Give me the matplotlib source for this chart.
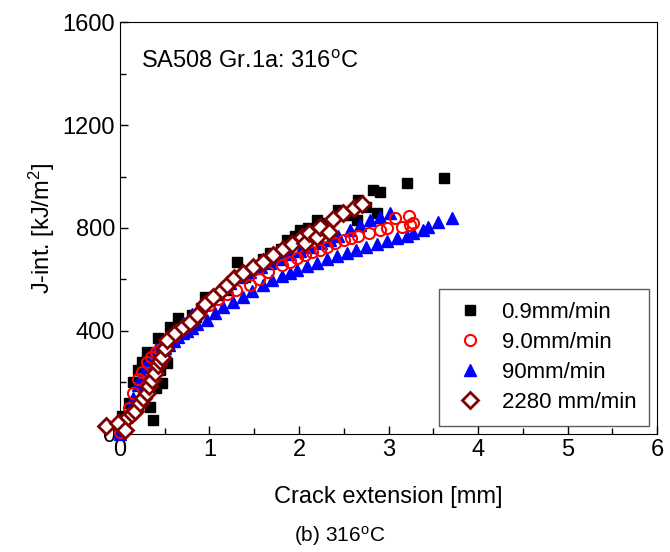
import numpy as np
import matplotlib
matplotlib.use("Agg")
import matplotlib.pyplot as plt
from matplotlib.ticker import MultipleLocator

plt.rcParams['font.family'] = ['Liberation Sans', 'DejaVu Sans']
plt.rcParams['mathtext.fontset'] = 'custom'
plt.rcParams['mathtext.rm'] = 'Liberation Sans'
plt.rcParams['mathtext.it'] = 'Liberation Sans:italic'

# 0.9 mm/min (black squares)
x_09 = [0.0, 0.02, 0.05, 0.1, 0.15, 0.2, 0.25, 0.3, 0.34, 0.37, 0.4, 0.43, 0.45, 0.47,
        0.5, 0.53, 0.56, 0.6, 0.65, 0.7, 0.75, 0.8, 0.85, 0.9, 0.95, 1.0, 1.1, 1.2,
        1.31, 1.4, 1.5, 1.6, 1.68, 1.8, 1.86, 1.95, 2.01, 2.1, 2.2, 2.3, 2.44, 2.55,
        2.65, 2.66, 2.75, 2.83, 2.87, 2.9, 3.2, 3.62]
j_09 = [8, 70, 60, 120, 200, 250, 280, 320, 105, 54, 180, 373, 250, 198,
        330, 276, 416, 390, 450, 430, 420, 460, 454, 490, 532, 520, 540, 560,
        668, 610, 640, 680, 703, 720, 753, 770, 792, 800, 831, 820, 870, 850,
        831, 909, 880, 948, 858, 940, 975, 994]

# 9.0 mm/min (red open circles)
x_90 = [0.0, 0.05, 0.1, 0.15, 0.2, 0.25, 0.3, 0.35, 0.4, 0.45, 0.5, 0.6, 0.7, 0.8,
        0.9, 1.0, 1.1, 1.2, 1.3, 1.45, 1.55, 1.65, 1.81, 1.9, 1.98, 2.07, 2.15,
        2.23, 2.31, 2.4, 2.5, 2.58, 2.66, 2.78, 2.9, 2.98, 3.07, 3.15, 3.23, 3.24, 3.27]
j_90 = [8, 40, 100, 160, 215, 240, 280, 300, 320, 326, 350, 380, 410, 440,
        480, 500, 525, 545, 560, 579, 600, 629, 656, 668, 683, 695, 707,
        715, 726, 740, 753, 760, 769, 780, 792, 800, 839, 804, 847, 812, 819]

# 90 mm/min (blue triangles), two tests
x_900a = [0.0, 0.05, 0.1, 0.15, 0.2, 0.25, 0.3, 0.35, 0.4, 0.45, 0.5, 0.55, 0.6, 0.65,
          0.7, 0.75, 0.8, 0.86, 0.97, 1.06, 1.15, 1.26, 1.37, 1.48, 1.6, 1.7, 1.81,
          1.9, 1.98, 2.09, 2.2, 2.31, 2.42, 2.53, 2.64, 2.75, 2.87, 2.98, 3.09, 3.2,
          3.27, 3.38, 3.44, 3.55, 3.71]
j_900a = [0, 30, 80, 140, 190, 230, 260, 285, 305, 320, 335, 345, 360, 375,
          390, 400, 410, 425, 443, 468, 493, 512, 532, 556, 579, 597, 613,
          625, 637, 651, 664, 678, 690, 702, 714, 726, 738, 749, 760, 770,
          781, 794, 804, 823, 839]
x_900b = [0.0, 0.1, 0.2, 0.3, 0.4, 0.5, 0.6, 0.7, 0.8, 0.9, 1.0, 1.1, 1.23, 1.35, 1.45,
          1.57, 1.68, 1.79, 1.9, 2.01, 2.12, 2.24, 2.35, 2.44, 2.57, 2.68, 2.79, 2.9, 3.02]
j_900b = [10, 90, 200, 275, 330, 360, 395, 430, 465, 495, 520, 550, 586, 610, 628,
          648, 664, 680, 697, 712, 726, 740, 753, 768, 792, 812, 831, 843, 858]

# 2280 mm/min (maroon open diamonds)
x_2280 = [-0.15, -0.02, 0.06, 0.09, 0.13, 0.17, 0.22, 0.26, 0.30, 0.33, 0.36, 0.39, 0.42,
          0.45, 0.47, 0.50, 0.53, 0.61, 0.70, 0.78, 0.86, 0.95, 1.04, 1.14, 1.20, 1.27,
          1.37, 1.49, 1.60, 1.71, 1.82, 1.92, 2.03, 2.07, 2.11, 2.20, 2.23, 2.33, 2.38,
          2.49, 2.61, 2.70]
j_2280 = [31, 43, 16, 66, 78, 90, 120, 140, 159, 185, 210, 237, 268,
          285, 299, 334, 365, 392, 416, 435, 462, 505, 532, 559, 579, 606,
          625, 649, 668, 695, 718, 738, 765, 742, 781, 765, 804, 784, 835,
          858, 878, 893]

fig = plt.figure(figsize=(6.7, 5.52), dpi=100)
ax = fig.add_axes([0.179, 0.214, 0.802, 0.746])

ax.plot(x_09, j_09, 's', color='black', ms=7, label='0.9mm/min', zorder=2, clip_on=False)
ax.plot(x_900a, j_900a, '^', color='blue', ms=8.5, label='90mm/min', zorder=3, clip_on=False)
ax.plot(x_900b, j_900b, '^', color='blue', ms=8.5, zorder=3, clip_on=False)
ax.plot(x_90, j_90, 'o', mfc='none', mec='red', mew=1.5, ms=8, label='9.0mm/min', zorder=4, clip_on=False)
ax.plot(x_2280, j_2280, 'D', mfc='white', mec='#800000', mew=2, ms=8, label='2280 mm/min', zorder=5, clip_on=False)

ax.set_xlim(0, 6)
ax.set_ylim(0, 1600)
ax.xaxis.set_major_locator(MultipleLocator(1))
ax.xaxis.set_minor_locator(MultipleLocator(0.5))
ax.yaxis.set_major_locator(MultipleLocator(400))
ax.yaxis.set_minor_locator(MultipleLocator(200))
ax.tick_params(which='both', direction='in', top=False, right=False, labelsize=17)
ax.tick_params(which='major', length=6, width=1)
ax.tick_params(which='minor', length=4, width=1)

ax.set_xlabel('Crack extension [mm]', fontsize=17, labelpad=18)
ax.set_ylabel('J-int. [kJ/m$^2$]', fontsize=17, labelpad=4)
ax.text(0.04, 0.93, 'SA508 Gr.1a: 316$^\\mathrm{o}$C', transform=ax.transAxes,
        fontsize=17, va='top', ha='left')

h, l = ax.get_legend_handles_labels()
order = [0, 2, 1, 3]
ax.legend([h[i] for i in order], [l[i] for i in order], loc='lower right',
          fontsize=16, frameon=True, fancybox=False, edgecolor='#333333',
          borderaxespad=0.35, borderpad=0.6, handletextpad=0.6,
          handlelength=1.6, labelspacing=0.4)

fig.text(0.507, 0.008, '(b) 316$^\\mathrm{o}$C', fontsize=15, ha='center', va='bottom')

fig.savefig('out.png', dpi=100)
